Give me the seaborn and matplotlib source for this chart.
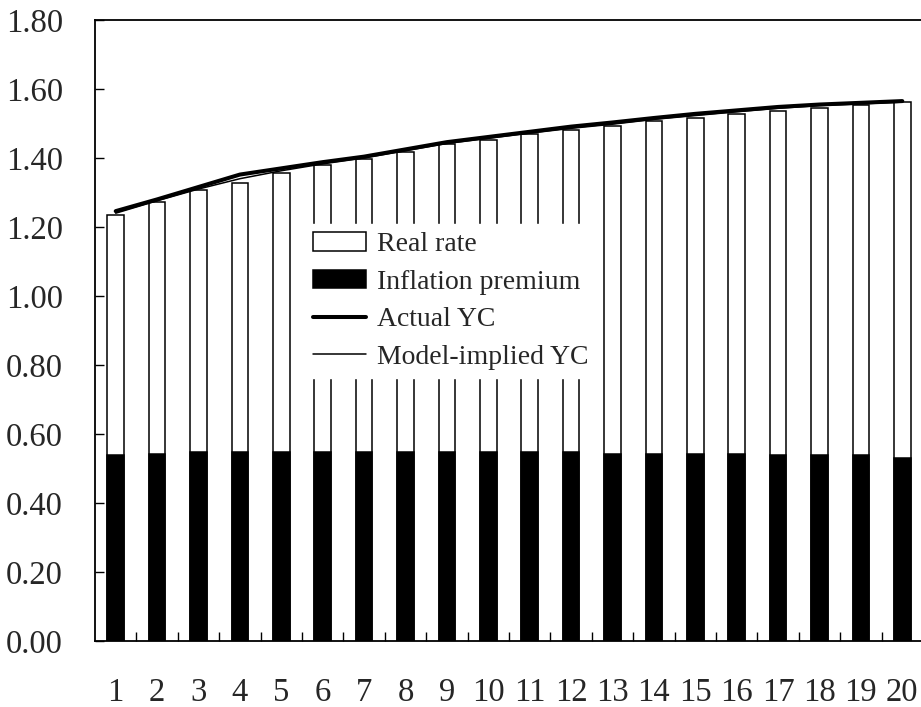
import numpy as np
import pandas as pd
import matplotlib
matplotlib.use("Agg")
import matplotlib.pyplot as plt
import seaborn as sns

# Decomposition of the yield curve by maturity (years)
maturity = [str(m) for m in range(1, 21)]
inflation_premium = [0.538, 0.543, 0.549, 0.549, 0.549, 0.549, 0.549, 0.549, 0.549, 0.549,
                     0.549, 0.549, 0.543, 0.543, 0.543, 0.543, 0.538, 0.538, 0.538, 0.531]
real_rate = [0.697, 0.730, 0.757, 0.779, 0.808, 0.831, 0.847, 0.869, 0.891, 0.903,
             0.920, 0.932, 0.950, 0.964, 0.974, 0.984, 0.998, 1.008, 1.016, 1.030]
actual_yc = [1.246, 1.280, 1.316, 1.352, 1.370, 1.388, 1.404, 1.425, 1.446, 1.461,
             1.476, 1.491, 1.503, 1.516, 1.528, 1.538, 1.548, 1.555, 1.560, 1.565]
model_yc = [1.240, 1.276, 1.310, 1.340, 1.363, 1.383, 1.400, 1.421, 1.442, 1.457,
            1.472, 1.486, 1.498, 1.512, 1.523, 1.534, 1.544, 1.552, 1.557, 1.562]
y_ticks = [0.0, 0.2, 0.4, 0.6, 0.8, 1.0, 1.2, 1.4, 1.6, 1.8]

df = pd.DataFrame({
    "maturity": maturity,
    "inflation": inflation_premium,
    "real": real_rate,
    "actual": actual_yc,
    "model": model_yc,
})
df["total"] = df["real"] + df["inflation"]
df["pos"] = np.arange(len(df))

sns.set_style("white")
plt.rcParams["font.family"] = ["Liberation Serif", "DejaVu Serif"]

fig = plt.figure(figsize=(9.21, 7.07), dpi=100)
ax = fig.add_axes([95 / 921, 66 / 707, 828 / 921, 621 / 707])

bar_w = 0.40
# real rate stacked on top of the inflation premium
sns.barplot(data=df, x="maturity", y="total", color="white", edgecolor="black",
            linewidth=1.1, width=bar_w, saturation=1, label="Real rate", ax=ax,
            zorder=2)
sns.barplot(data=df, x="maturity", y="inflation", color="black", edgecolor="black",
            linewidth=1.1, width=bar_w, saturation=1, label="Inflation premium", ax=ax,
            zorder=3)

sns.lineplot(data=df, x="pos", y="actual", color="black", linewidth=2.9,
             label="Actual YC", ax=ax, zorder=4)
sns.lineplot(data=df, x="pos", y="model", color="black", linewidth=1.1,
             label="Model-implied YC", ax=ax, zorder=4)

ax.set_xlim(-0.5, len(df) - 0.5)
ax.set_ylim(0, 1.8)
ax.set_yticks(y_ticks)
ax.set_yticklabels([f"{v:.2f}" for v in y_ticks])
ax.set_xticks(df["pos"])
ax.set_xticklabels(maturity)
ax.set_xticks(np.arange(0.5, len(df) - 1, 1.0), minor=True)
ax.set_xlabel("")
ax.set_ylabel("")

ax.tick_params(axis="y", which="major", direction="in", length=6.5, width=1.0,
               color="black", labelsize=23.5, pad=23, left=True)
ax.tick_params(axis="x", which="major", length=0, labelsize=23.5, pad=26)
ax.tick_params(axis="x", which="minor", direction="in", length=6.5, width=1.0,
               color="black", bottom=True)

for side in ["left", "top", "bottom"]:
    ax.spines[side].set_visible(True)
    ax.spines[side].set_color("black")
    ax.spines[side].set_linewidth(1.3)
ax.spines["right"].set_visible(False)

handles, labels = ax.get_legend_handles_labels()
order = ["Real rate", "Inflation premium", "Actual YC", "Model-implied YC"]
hmap = dict(zip(labels, handles))
leg = ax.legend([hmap[k] for k in order], order, loc="upper left",
                bbox_to_anchor=(0.2536, 0.672), borderaxespad=0, frameon=True,
                fancybox=False, facecolor="white", edgecolor="white", framealpha=1,
                fontsize=20, handlelength=1.9, handleheight=0.65, handletextpad=0.4,
                labelspacing=0.45, borderpad=0.3)
leg.set_zorder(6)

fig.savefig("out.png", dpi=100)
